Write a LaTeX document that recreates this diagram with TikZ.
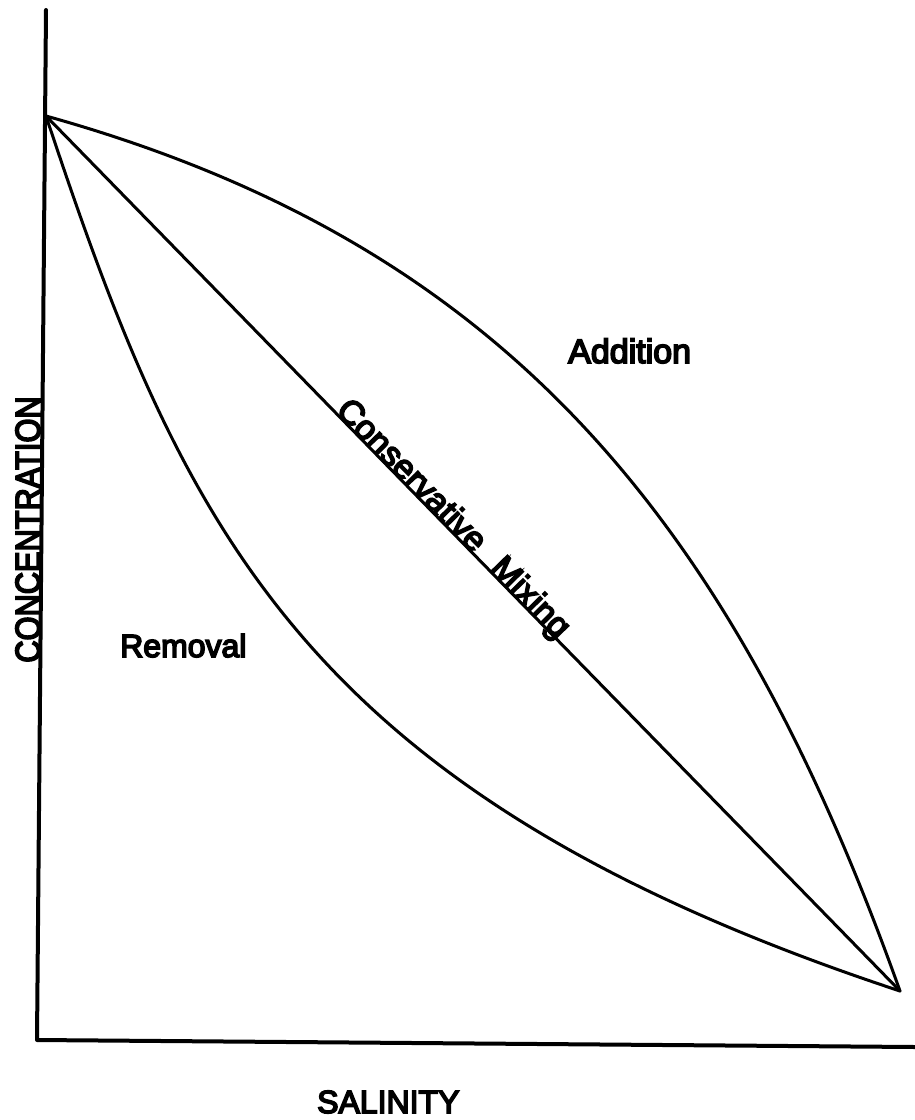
\documentclass[tikz,border=0pt]{standalone}
\usepackage{fontspec}
\setmainfont{Liberation Sans}
\newfontfamily\lblfont{Liberation Sans}[FakeBold=5]
\usetikzlibrary{calc}
\begin{document}
\begin{tikzpicture}[x=1pt,y=-1pt,
  axisline/.style={line width=4pt, line cap=round, line join=round},
  curve/.style={line width=3pt, line join=round, line cap=round},
  lbl/.style={inner sep=0pt, font=\lblfont\fontsize{34}{40}\selectfont}]
\useasboundingbox (0,0) rectangle (915,1120);

% axes
\coordinate (ytop) at (46,10);
\coordinate (origin) at (37,1040);
\coordinate (xend) at (915,1047);
\draw[axisline] (ytop) -- (origin) -- (xend);

% end points
\coordinate (top) at (46,116);
\coordinate (bot) at (900,991);

% conservative mixing line
\draw[curve] (top) -- (bot);

% addition curve
\draw[curve] (top) .. controls (501,243) and (730,515) .. (bot);

% removal curve
\draw[curve] (top) .. controls (183,528) and (301,793) .. (bot);

% labels
\node[lbl, anchor=base west, rotate=-45.7] (cm) at ($(top)!0.338!(bot)$)
  {Conservative\hspace{0.65em}Mixing};
\node[lbl, anchor=base west] (add) at (568,363) {Addition};
\node[lbl, anchor=base west, font=\lblfont\fontsize{32}{38}\selectfont] (rem) at (120,657) {Removal};
\node[lbl, anchor=base west, font=\lblfont\fontsize{32}{38}\selectfont] (sal) at (317,1113) {SALINITY};
\node[lbl, anchor=base, rotate=90] (conc) at (40,529.5)
  {\scalebox{0.88}[1]{\lblfont\fontsize{35}{40}\selectfont CONCENTRATION}};
\end{tikzpicture}
\end{document}
